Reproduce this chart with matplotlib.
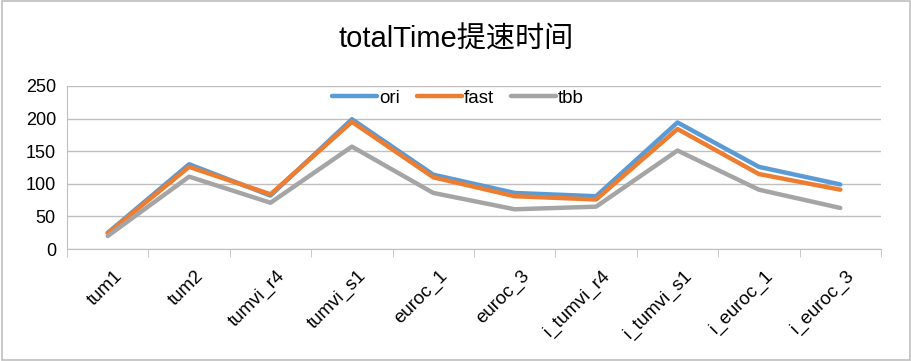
import numpy as np
import matplotlib.pyplot as plt

plt.rcParams['font.family'] = ['Liberation Sans', 'Noto Sans CJK SC', 'DejaVu Sans']

categories = ["tum1", "tum2", "tumvi_r4", "tumvi_s1", "euroc_1", "euroc_3",
              "i_tumvi_r4", "i_tumvi_s1", "i_euroc_1", "i_euroc_3"]
ori = [25, 130, 82, 199, 114, 86, 81, 194, 126, 99]
fast = [24, 126, 84, 195, 110, 81, 76, 184, 115, 91]
tbb = [20, 111, 71, 157, 86, 61, 65, 151, 91, 63]

fig = plt.figure(figsize=(9.12, 3.61), dpi=100)
ax = fig.add_axes([0.0735, 0.31, 0.8925, 0.452])

x = np.arange(len(categories))
ax.plot(x, ori, color="#5B9BD5", linewidth=3.2, label="ori", solid_capstyle="round")
ax.plot(x, fast, color="#ED7D31", linewidth=3.2, label="fast", solid_capstyle="round")
ax.plot(x, tbb, color="#A5A5A5", linewidth=3.2, label="tbb", solid_capstyle="round")

ax.set_xlim(-0.5, len(categories) - 0.5)
ax.set_ylim(0, 250)
ax.set_yticks(np.arange(0, 251, 50))
ax.yaxis.grid(True, color="#BFBFBF", linewidth=1)
ax.set_axisbelow(True)
for s in ["top", "right"]:
    ax.spines[s].set_visible(False)
ax.spines["left"].set_color("#BFBFBF")
ax.spines["bottom"].set_color("#BFBFBF")
ax.tick_params(axis="y", length=0, labelsize=13, pad=8)

ax.set_xticks(x + 0.07)
ax.set_xticklabels(categories, rotation=45, ha="right", rotation_mode="anchor",
                   fontsize=13.5)
ax.tick_params(axis="x", length=0, pad=13)
ax.set_xticks(np.arange(-0.5, len(categories), 1), minor=True)
ax.tick_params(axis="x", which="minor", length=6, color="#BFBFBF", direction="out")

ax.legend(loc="center", bbox_to_anchor=(0.48, 0.926), ncol=3, frameon=False,
          fontsize=13.5, handlelength=2.4, handletextpad=0.1, columnspacing=0.9,
          borderpad=0, borderaxespad=0)

fig.text(0.5, 0.889, "totalTime提速时间", ha="center", va="center", fontsize=21,
         family=['Liberation Sans', 'Noto Sans CJK SC'])

fig.patches.append(plt.Rectangle((0.002, 0.003), 0.996, 0.994, transform=fig.transFigure,
                                 fill=False, edgecolor="#BFBFBF", linewidth=1.2))

fig.savefig("out.png", dpi=100)
